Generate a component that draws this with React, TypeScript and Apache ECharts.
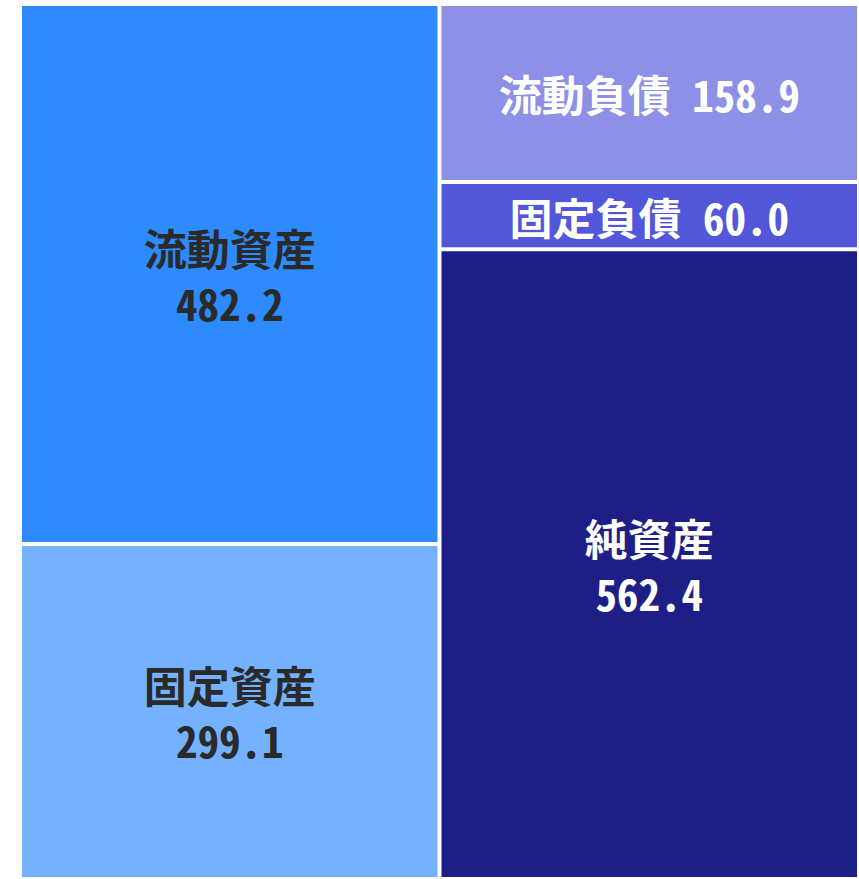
import React, { useEffect, useRef } from "react";
import * as echarts from "echarts";

const categories = ["資産", "負債・純資産"];
const seriesNames = ["固定資産", "流動資産", "純資産", "固定負債", "流動負債"];
const fixedAssets = [299.1, null];
const currentAssets = [482.2, null];
const netAssets = [null, 562.4];
const fixedLiabilities = [null, 60.0];
const currentLiabilities = [null, 158.9];
const seriesValues = [fixedAssets, currentAssets, netAssets, fixedLiabilities, currentLiabilities];
const seriesColors = ["#74B2FF", "#2E8BFF", "#1E1E87", "#5257D9", "#8C90E6"];
const labelColors = ["#2a2a2a", "#2a2a2a", "#ffffff", "#ffffff", "#ffffff"];
const singleLine = [false, false, false, true, true];

const FONT = "'Noto Sans Mono CJK JP', 'Noto Sans CJK JP', sans-serif";

export default function App() {
  const ref = useRef<HTMLDivElement>(null);
  useEffect(() => {
    if (!ref.current) return;
    const chart = echarts.init(ref.current, null, { renderer: "svg" });
    const total = (fixedAssets[0] as number) + (currentAssets[0] as number);
    chart.setOption({
      animation: false,
      grid: { left: 20, width: 842, top: 4, height: 877 },
      xAxis: {
        type: "category",
        data: categories,
        show: false,
      },
      yAxis: { type: "value", min: 0, max: total, show: false },
      series: seriesNames.map((name, i) => ({
        name,
        type: "bar",
        stack: "bs",
        barWidth: "100%",
        barCategoryGap: "0%",
        data: seriesValues[i].map((v) => (v == null ? "-" : v)),
        itemStyle: { color: seriesColors[i], borderColor: "#ffffff", borderWidth: 2 },
        label: {
          show: true,
          position: "inside",
          color: labelColors[i],
          fontFamily: FONT,
          fontWeight: "bold",
          fontSize: 43,
          lineHeight: 55,
          formatter: (p: any) => {
            const val = Number(p.value).toFixed(1);
            return singleLine[i] ? `${name} ${val}` : `${name}\n${val}`;
          },
        },
      })),
    });
    return () => chart.dispose();
  }, []);
  return (
    <div
      ref={ref}
      style={{ position: "absolute", left: 0, top: 0, width: 859, height: 879 }}
    />
  );
}
